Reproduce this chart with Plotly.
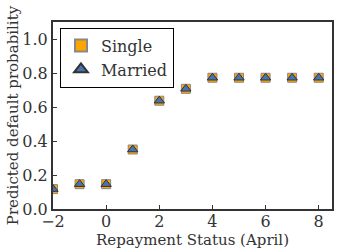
import plotly.graph_objects as go

status = [-2, -1, 0, 1, 2, 3, 4, 5, 6, 7, 8]
single = [0.117, 0.146, 0.146, 0.350, 0.637, 0.707, 0.772, 0.772, 0.772, 0.772, 0.772]
married = [0.117, 0.146, 0.146, 0.350, 0.637, 0.707, 0.772, 0.772, 0.772, 0.772, 0.772]
err = [0.004] * len(status)

font = "DejaVu Serif"
fig = go.Figure()
fig.add_trace(go.Scatter(
    x=status, y=single, mode="markers", name="Single",
    marker=dict(symbol="square", size=9, color="#FFA500",
                line=dict(color="#888888", width=1)),
    error_y=dict(type="data", array=err, color="#FFA500", thickness=1, width=3),
))
fig.add_trace(go.Scatter(
    x=status, y=married, mode="markers", name="Married",
    marker=dict(symbol="triangle-up", size=9, color="#4A72B0",
                line=dict(color="#333333", width=1)),
    error_y=dict(type="data", array=err, color="#4A72B0", thickness=1, width=3),
))
axis_common = dict(
    showline=True, linecolor="#333333", linewidth=2, mirror=True,
    ticks="inside", ticklen=4, tickcolor="#333333", showgrid=False, zeroline=False,
    tickfont=dict(family=font, size=16, color="#333333"), automargin=False,
)
fig.update_layout(
    width=338, height=252,
    margin=dict(l=53, r=6, t=22, b=43),
    paper_bgcolor="white", plot_bgcolor="white",
    showlegend=True,
    legend=dict(x=0.025, y=0.97, xanchor="left", yanchor="top",
                bordercolor="black", borderwidth=1, bgcolor="white",
                font=dict(family=font, size=16, color="#333333"),
                itemsizing="constant", tracegroupgap=0),
    xaxis=dict(range=[-2, 8.5], tickvals=[-2, 0, 2, 4, 6, 8],
               ticktext=["\u22122", "0", "2", "4", "6", "8"],
               ticklabelstandoff=-3,
               title=dict(text="Repayment Status (April)", standoff=0,
                          font=dict(family=font, size=15, color="#333333")),
               **axis_common),
    yaxis=dict(range=[0, 1.1], tickvals=[0, 0.2, 0.4, 0.6, 0.8, 1.0],
               ticktext=["0.0", "0.2", "0.4", "0.6", "0.8", "1.0"],
               title=dict(text="Predicted default probability", standoff=0,
                          font=dict(family=font, size=15, color="#333333")),
               **axis_common),
)
fig.write_html("out.html", post_script="document.body.style.margin='0';",
               config={"displayModeBar": False})
